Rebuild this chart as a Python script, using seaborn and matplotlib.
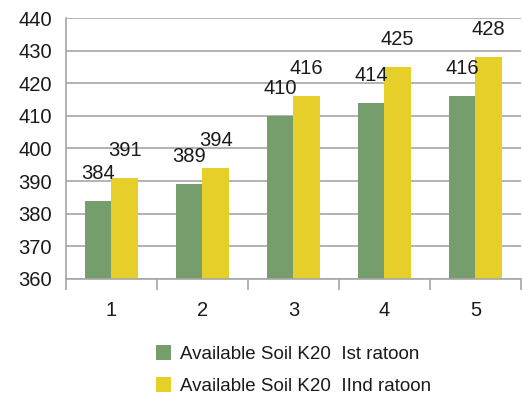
import matplotlib
matplotlib.use("Agg")
import matplotlib.pyplot as plt
import seaborn as sns
import pandas as pd

categories = ["1", "2", "3", "4", "5"]
first_ratoon = [384, 389, 410, 414, 416]
second_ratoon = [391, 394, 416, 425, 428]
series_names = ["Available Soil K20  Ist ratoon", "Available Soil K20  IInd ratoon"]
y_ticks = [360, 370, 380, 390, 400, 410, 420, 430, 440]

df = pd.DataFrame({
    "category": categories * 2,
    "value": first_ratoon + second_ratoon,
    "series": [series_names[0]] * len(categories) + [series_names[1]] * len(categories),
})

sns.set_theme(style="white")
plt.rcParams["font.family"] = ["Liberation Sans", "DejaVu Sans"]

fig = plt.figure(figsize=(5.23, 3.96), dpi=100)
ax = fig.add_axes([0.126, 0.2955, 0.870, 0.659])

palette = ["#769e6c", "#e6cf29"]
sns.barplot(data=df, x="category", y="value", hue="series", order=categories,
            hue_order=series_names, palette=palette, width=0.58, saturation=1,
            linewidth=0, ax=ax, legend=True)

ax.set_ylim(360, 440)
ax.set_yticks(y_ticks)
ax.set_xlim(-0.5, len(categories) - 0.5)
ax.yaxis.grid(True, color="#a6a6a6", linewidth=1.2)
ax.set_axisbelow(True)
ax.set_xlabel("")
ax.set_ylabel("")

for side in ["top", "right"]:
    ax.spines[side].set_visible(False)
for side in ["left", "bottom"]:
    ax.spines[side].set_color("#a6a6a6")
    ax.spines[side].set_linewidth(1.2)

fs = 14.5
ax.tick_params(axis="y", length=8, width=1.2, color="#a6a6a6", labelsize=fs,
               labelcolor="#1a1a1a", pad=2)
ax.tick_params(axis="x", which="major", length=0, labelsize=fs, labelcolor="#1a1a1a", pad=16)
ax.set_xticks([i - 0.5 for i in range(len(categories) + 1)], minor=True)
ax.tick_params(axis="x", which="minor", length=8, width=1.2, color="#a6a6a6", bottom=True)

for container in ax.containers:
    ax.bar_label(container, fmt="%d", padding=13, fontsize=fs, color="#1a1a1a")

handles, labels = ax.get_legend_handles_labels()
ax.legend(handles, labels, loc="upper center", bbox_to_anchor=(0.5, -0.19),
          frameon=False, fontsize=13.5, handlelength=0.8, handleheight=0.85,
          handletextpad=0.5, labelspacing=0.72, labelcolor="#1a1a1a")

fig.savefig("out.png", dpi=100)
